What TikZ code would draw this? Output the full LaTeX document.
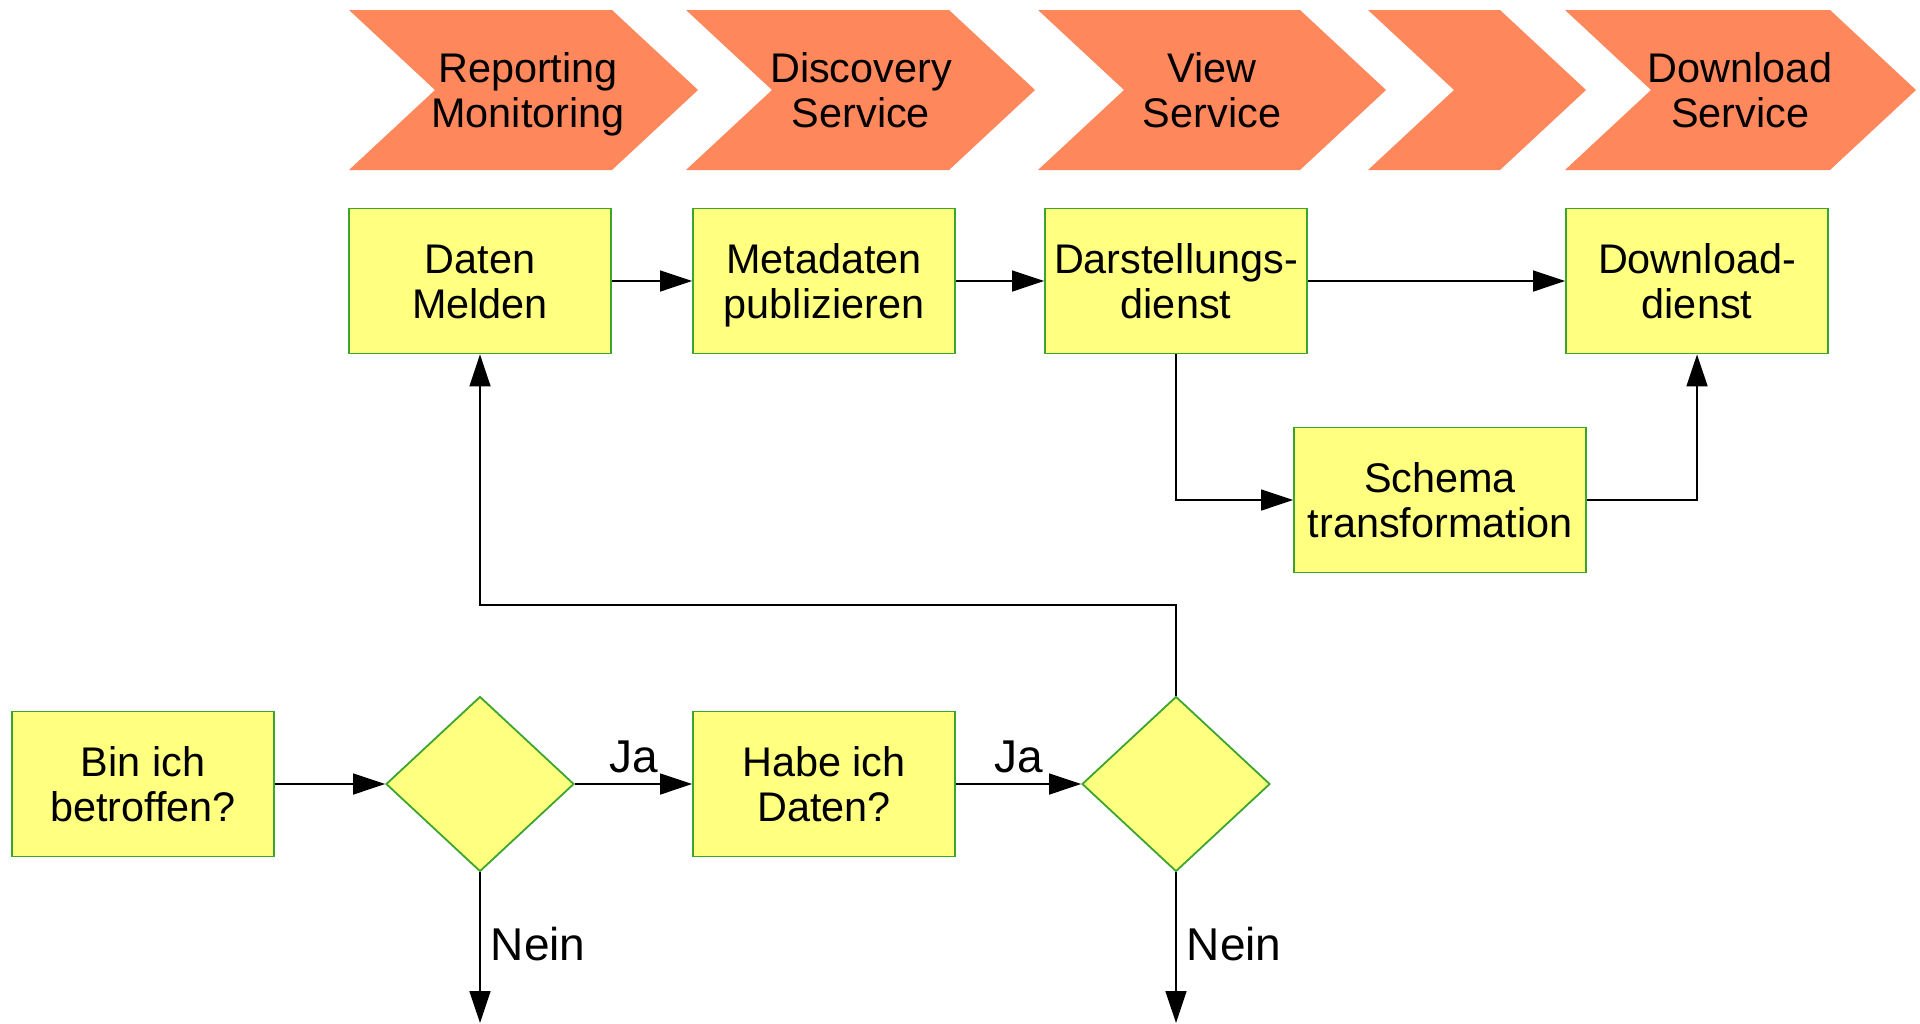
\documentclass[tikz,border=0pt]{standalone}
\usepackage{fontspec}
\setmainfont{Liberation Sans}
\usetikzlibrary{arrows.meta,shapes.geometric}
\definecolor{chevorange}{RGB}{255,135,92}
\definecolor{boxyellow}{RGB}{255,255,128}
\definecolor{boxgreen}{RGB}{60,165,45}
\begin{document}
\begin{tikzpicture}[x=0.5pt,y=-0.5pt,
    every node/.style={font=\fontsize{20.7}{22.7}\selectfont, align=center},
    twoline/.style={text height=38pt, text depth=0.2pt},
    answer/.style={font=\fontsize{23}{25}\selectfont, text depth=0pt},
    box/.style={twoline, draw=boxgreen, fill=boxyellow, line width=0.9pt, minimum width=131pt, minimum height=72.5pt, inner sep=0pt},
    decision/.style={draw=boxgreen, fill=boxyellow, line width=0.9pt, shape=diamond, minimum width=94pt, minimum height=87.5pt, inner sep=0pt},
    flow/.style={line width=0.8pt, -{Triangle[length=16pt,width=10.5pt]}}]
    \useasboundingbox (0,0) rectangle (1920,1023);

    % phases
    \foreach \l/\n/\c/\t in {349/435/612/698, 686/772/949/1035, 1038/1124/1300/1386, 1368/1454/1500/1586, 1565/1651/1830/1916}
        \fill[chevorange] (\l,10) -- (\c,10) -- (\t,90) -- (\c,170) -- (\l,170) -- (\n,90) -- cycle;
    \node[twoline] (reporting) at (528,90) {Reporting\\Monitoring};
    \node[twoline] (discovery) at (861,90) {Discovery\\Service};
    \node[twoline] (view) at (1212,90) {View\\Service};
    \node[twoline] (downloadsvc) at (1740,90) {Download\\Service};

    % services
    \node[box] (daten) at (480,281) {Daten\\Melden};
    \node[box] (meta) at (824,281) {Metadaten\\publizieren};
    \node[box] (darst) at (1176,281) {Darstellungs-\\dienst};
    \node[box] (download) at (1697,281) {Download-\\dienst};
    \node[box, minimum width=146pt] (schema) at (1440,500) {Schema\\transformation};

    % questions
    \node[box] (bin) at (143,784) {Bin ich\\betroffen?};
    \node[decision] (dec1) at (480,784) {};
    \node[box] (habe) at (824,784) {Habe ich\\Daten?};
    \node[decision] (dec2) at (1176,784) {};

    \coordinate (bend) at (1176,605);
    \coordinate (end1) at (480,1023);
    \coordinate (end2) at (1176,1023);

    \draw[flow] (daten) -- (meta);
    \draw[flow] (meta) -- (darst);
    \draw[flow] (darst) -- (download);
    \draw[flow] (darst.south) |- (schema.west);
    \draw[flow] (schema.east) -| (download.south);

    \draw[flow] (bin) -- (dec1);
    \draw[flow] (dec1) -- node[above, answer, inner sep=5.2pt] (ja1) {Ja} (habe);
    \draw[flow] (habe) -- node[above, answer, inner sep=5.2pt] (ja2) {Ja} (dec2);
    \draw[flow] (dec2.north) -- (bend) -| (daten.south);
    \draw[flow] (dec1.south) -- node[right, answer, inner sep=5pt, yshift=1.75pt] (nein1) {Nein} (end1);
    \draw[flow] (dec2.south) -- node[right, answer, inner sep=5pt, yshift=1.75pt] (nein2) {Nein} (end2);
\end{tikzpicture}
\end{document}
